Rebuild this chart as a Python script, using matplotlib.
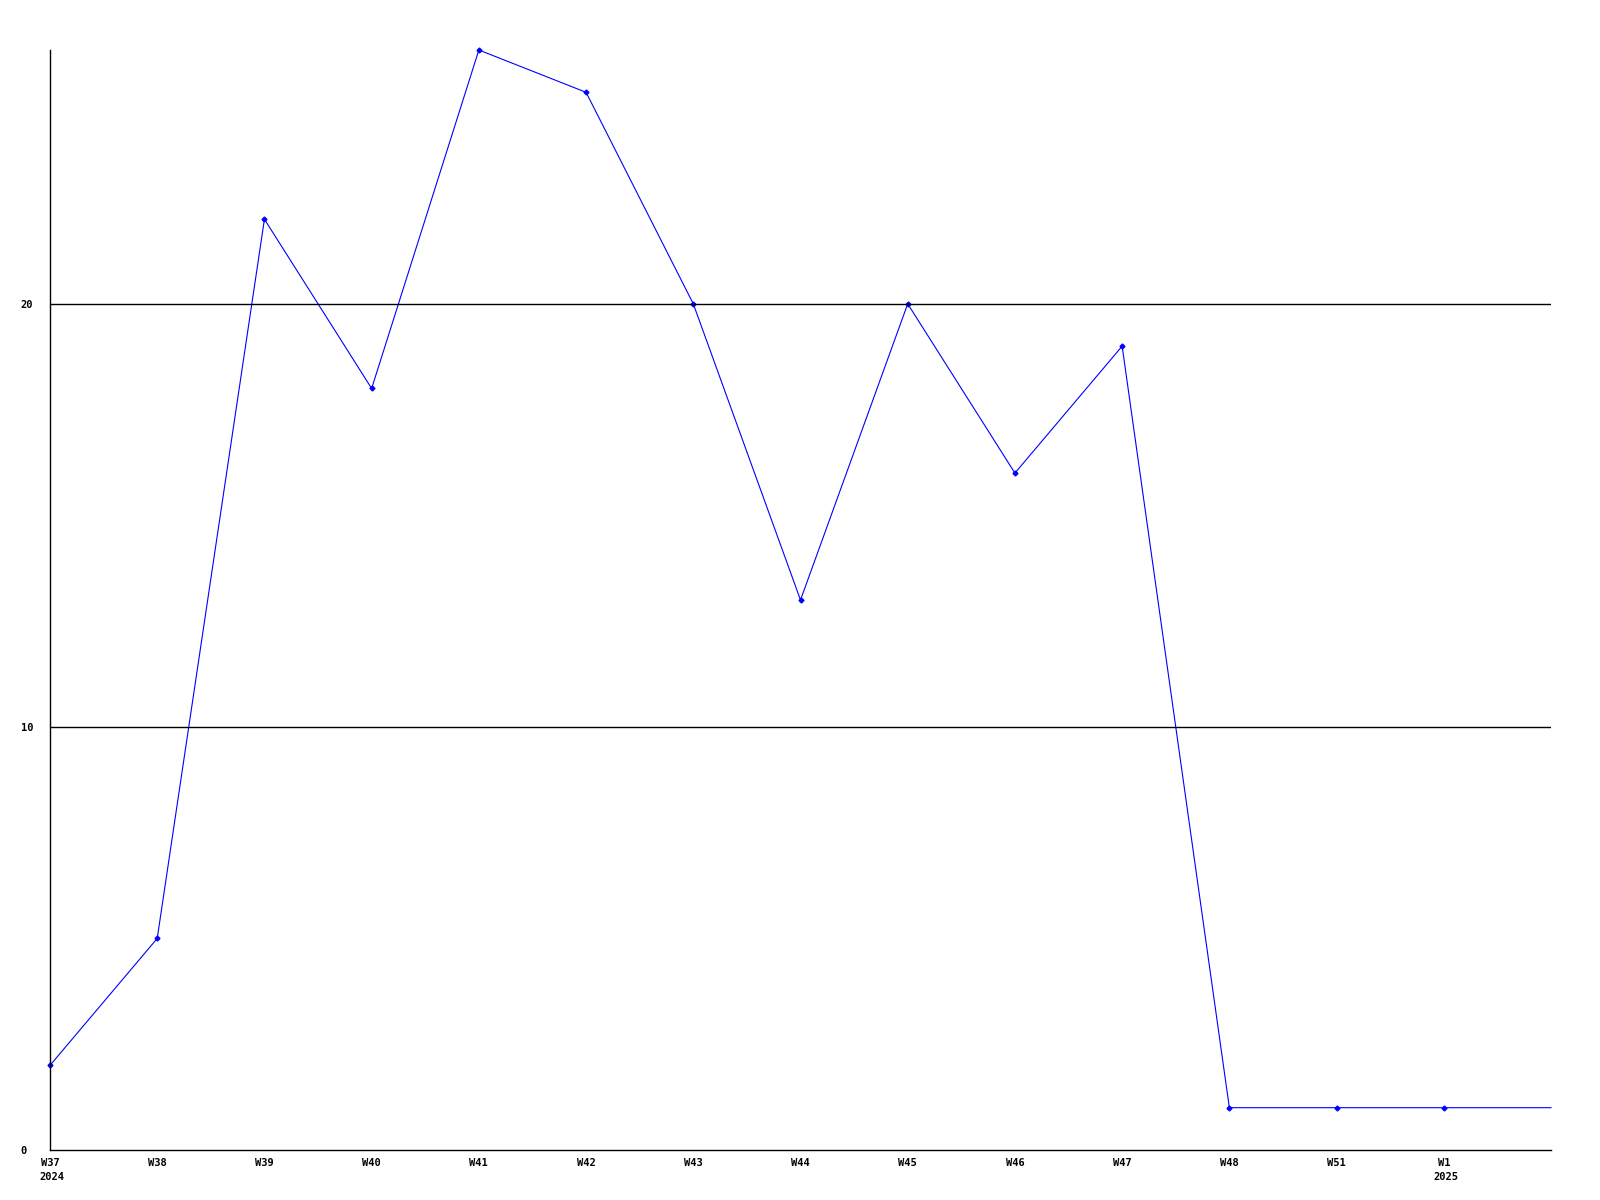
import matplotlib
matplotlib.use("Agg")
import matplotlib.pyplot as plt

weeks = ["W37", "W38", "W39", "W40", "W41", "W42", "W43", "W44", "W45", "W46", "W47", "W48", "W51", "W1"]
years = {0: "2024", 13: "2025"}
values = [2, 5, 22, 18, 26, 25, 20, 13, 20, 16, 19, 1, 1, 1]
tail_value = 1  # line continues to the right edge without a marker
yticks = [0, 10, 20]

fig = plt.figure(figsize=(16, 12), dpi=100)
ax = fig.add_axes([50/1600, 50/1200, (1551-50)/1600, (1150-50)/1200])

xs = list(range(len(values))) + [len(values)]
ys = values + [tail_value]
ax.plot(xs, ys, color="#0000ff", linewidth=0.8, marker="D", markersize=2.5,
        markevery=list(range(len(values))), clip_on=False)

ax.set_xlim(0, len(values))
ax.set_ylim(0, 26)
for s in ["top", "right"]:
    ax.spines[s].set_visible(False)
for s in ["left", "bottom"]:
    ax.spines[s].set_color("black")
    ax.spines[s].set_linewidth(1)

for y in yticks[1:]:
    ax.axhline(y, color="black", linewidth=1)

font = dict(family="DejaVu Sans Mono", weight="bold", size=7.5)
ax.set_yticks(yticks)
ax.set_yticklabels([str(v) for v in yticks], ha="left", **font)
ax.set_xticks(range(len(weeks)))
ax.set_xticklabels(weeks, **font)
ax.tick_params(axis="both", length=0)
ax.tick_params(axis="y", pad=21)
ax.tick_params(axis="x", pad=6)

for i, yr in years.items():
    ax.annotate(yr, xy=(i, 0), xycoords=("data", "axes fraction"),
                xytext=(-7.5, -16), textcoords="offset points",
                ha="left", va="top", **font)

fig.savefig("out.png", dpi=100)
